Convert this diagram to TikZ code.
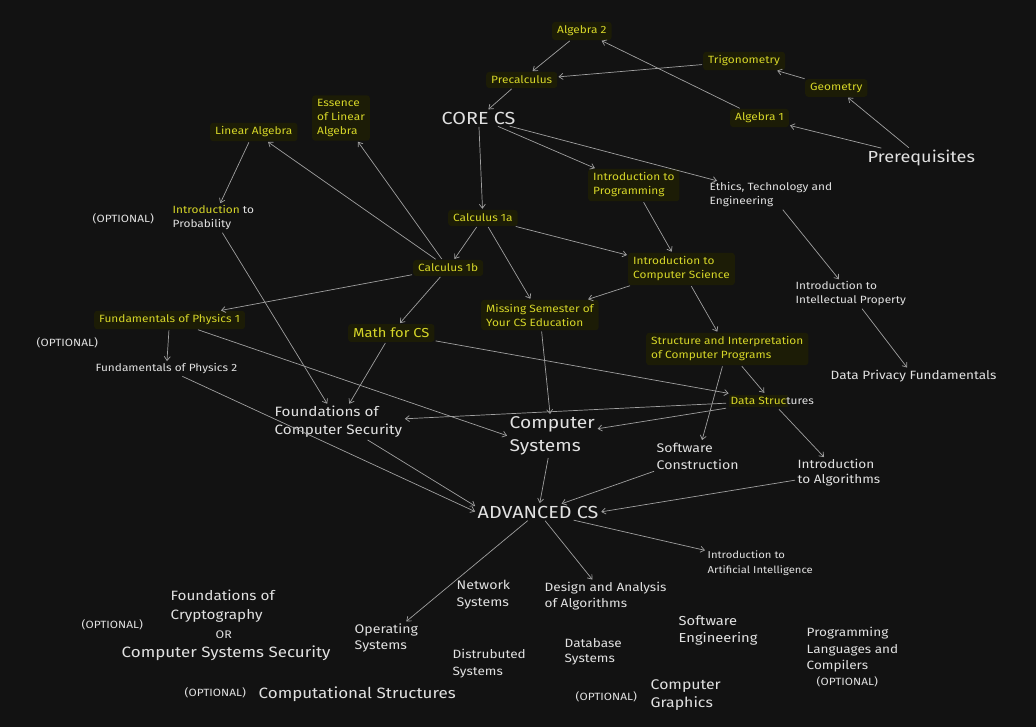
\documentclass[tikz,border=0pt]{standalone}
\usepackage{fontspec}
\setmainfont{Fira Sans}[FakeStretch=1.13]
\usetikzlibrary{arrows.meta}
\definecolor{bg}{RGB}{18,18,18}
\definecolor{yl}{RGB}{214,214,40}
\definecolor{hl}{RGB}{28,28,6}
\definecolor{wt}{RGB}{225,225,225}
\definecolor{ln}{RGB}{160,160,160}
\newcommand\fsz[2]{\fontsize{#1}{#2}\selectfont}
\tikzset{
  ybox/.style={text=yl, fill=hl, rounded corners=3pt, inner xsep=5pt, inner ysep=4pt, align=left, anchor=west, font=\fsz{10.5}{14}},
  wtxt/.style={text=wt, inner sep=1.5pt, align=left, anchor=west, font=\fsz{10.5}{14}},
  edge/.style={draw=ln, line width=0.7pt, -{Straight Barb[length=4pt,width=6pt]}, shorten >=1pt, shorten <=1pt}
}
\begin{document}
\begin{tikzpicture}[x=1pt,y=-1pt]
\fill[bg] (0,0) rectangle (1036,727);
\useasboundingbox (0,0) rectangle (1036,727);
% prerequisites
\node[ybox] (alg2) at (552,31) {Algebra 2};
\node[ybox] (precalc) at (486,80) {Precalculus};
\node[ybox] (trig) at (703,61) {Trigonometry};
\node[ybox] (geom) at (805,88) {Geometry};
\node[ybox] (alg1) at (730,118) {Algebra 1};
\node[wtxt, font=\fsz{16}{18}] (prereq) at (866,158) {Prerequisites};
% core
\node[wtxt, font=\fsz{17.5}{20}] (core) at (440,118) {CORE CS};
\node[ybox] (linalg) at (210,132) {Linear Algebra};
\node[ybox] (essence) at (312,118) {Essence\\of Linear\\Algebra};
\node[ybox] (introprog) at (588,185) {Introduction to\\Programming};
\node[wtxt] (ethics) at (708,195) {Ethics, Technology and\\Engineering};
\node[ybox] (calc1a) at (448,218) {Calculus 1a};
\node[wtxt] (opt1) at (91,219) {(OPTIONAL)};
\node[wtxt] (prob) at (171,218) {\textcolor{yl}{Introduction} to\\Probability};
\node[ybox] (calc1b) at (413,268) {Calculus 1b};
\node[ybox] (introcs) at (628,269) {Introduction to\\Computer Science};
\node[wtxt] (ip) at (794,294) {Introduction to\\Intellectual Property};
\node[ybox] (fop1) at (94,320) {Fundamentals of Physics 1};
\node[ybox] (missing) at (481,315) {Missing Semester of\\Your CS Education};
\node[ybox, font=\fsz{13}{16}] (math) at (348,333) {Math for CS};
\node[wtxt] (opt2) at (35,343) {(OPTIONAL)};
\node[ybox] (sicp) at (646,349) {Structure and Interpretation\\of Computer Programs};
\node[wtxt] (fop2) at (94,369) {Fundamentals of Physics 2};
\node[wtxt, font=\fsz{12}{15}] (privacy) at (829,376) {Data Privacy Fundamentals};
\node[wtxt] (ds) at (727,401) {{\setlength\fboxsep{2pt}\colorbox{hl}{\textcolor{yl}{Data Struc}}}\hspace{-2pt}tures};
\node[wtxt, font=\fsz{13.5}{18}] (fcs) at (273,422) {Foundations of\\Computer Security};
\node[wtxt, font=\fsz{17}{23}] (compsys) at (508,436) {Computer\\Systems};
\node[wtxt, font=\fsz{12.5}{17}] (swcons) at (655,456) {Software\\Construction};
\node[wtxt, font=\fsz{12}{15}] (algos) at (796,473) {Introduction\\to Algorithms};
% advanced
\node[wtxt, font=\fsz{17.5}{20}] (adv) at (476,512) {ADVANCED CS};
\node[wtxt, font=\fsz{10}{15}] (ai) at (706,563) {Introduction to\\Artificial Intelligence};
\node[wtxt, font=\fsz{12.5}{17}] (network) at (455,595) {Network\\Systems};
\node[wtxt, font=\fsz{12}{16}] (daa) at (543,596) {Design and Analysis\\of Algorithms};
\node[wtxt, font=\fsz{13.5}{19}] (crypto) at (169,606) {Foundations of\\Cryptography};
\node[wtxt] (opt3) at (80,625) {(OPTIONAL)};
\node[wtxt, font=\fsz{11}{14}] (or) at (214,635) {OR};
\node[wtxt, font=\fsz{15}{18}] (css) at (120,653) {Computer Systems Security};
\node[wtxt, font=\fsz{12.5}{16}] (os) at (353,638) {Operating\\Systems};
\node[wtxt, font=\fsz{13}{17}] (sweng) at (677,631) {Software\\Engineering};
\node[wtxt, font=\fsz{12}{16.5}] (plc) at (805,650) {Programming\\Languages and\\Compilers};
\node[wtxt] (opt4) at (815,682) {(OPTIONAL)};
\node[wtxt, font=\fsz{12}{15}] (db) at (563,652) {Database\\Systems};
\node[wtxt, font=\fsz{12}{17}] (dist) at (451,664) {Distrubuted\\Systems};
\node[wtxt] (opt5) at (183,693) {(OPTIONAL)};
\node[wtxt, font=\fsz{15}{18}] (compstruct) at (257,694) {Computational Structures};
\node[wtxt] (opt6) at (574,697) {(OPTIONAL)};
\node[wtxt, font=\fsz{14}{18}] (graphics) at (649,695) {Computer\\Graphics};
% edges
\draw[edge] (alg2) -- (precalc);
\draw[edge] (precalc) -- (core);
\draw[edge] (trig) -- (precalc);
\draw[edge] (alg1) -- (alg2);
\draw[edge] (geom) -- (trig);
\draw[edge] (prereq) -- (geom);
\draw[edge] (prereq) -- (alg1);
\draw[edge] (core) -- (calc1a);
\draw[edge] (core) -- (introprog);
\draw[edge] (core) -- (ethics);
\draw[edge] (linalg) -- (prob);
\draw[edge] (calc1b) -- (linalg);
\draw[edge] (calc1b) -- (essence);
\draw[edge] (calc1a) -- (calc1b);
\draw[edge] (calc1a) -- (missing);
\draw[edge] (calc1a) -- (introcs);
\draw[edge] (introprog) -- (introcs);
\draw[edge] (ethics) -- (ip);
\draw[edge] (ip) -- (privacy);
\draw[edge] (introcs) -- (missing);
\draw[edge] (introcs) -- (sicp);
\draw[edge] (calc1b) -- (fop1);
\draw[edge] (calc1b) -- (math);
\draw[edge] (fop1) -- (fop2);
\draw[edge] (fop1) -- (compsys.west);
\draw[edge] (math) -- (ds);
\draw[edge] (math) -- (fcs);
\draw[edge] (prob) -- (fcs);
\draw[edge] (missing) -- (compsys);
\draw[edge] (sicp) -- (ds);
\draw[edge] (sicp) -- (swcons);
\draw[edge] (ds) -- (fcs);
\draw[edge] (ds) -- (compsys);
\draw[edge] (ds) -- (algos);
\draw[edge] (swcons) -- (adv);
\draw[edge] (algos) -- (adv.east);
\draw[edge] (compsys) -- (adv);
\draw[edge] (fcs) -- (adv.175);
\draw[edge] (fop2) -- (adv.west);
\draw[edge] (adv) -- (os);
\draw[edge] (adv) -- (daa);
\draw[edge] (adv) -- (ai);
\end{tikzpicture}
\end{document}
